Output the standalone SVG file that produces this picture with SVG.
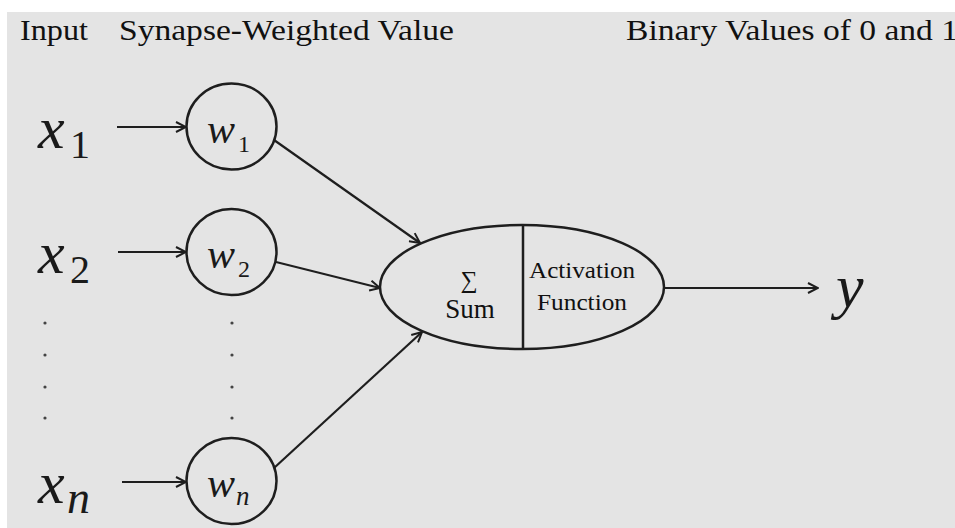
<svg xmlns="http://www.w3.org/2000/svg" width="955" height="528" viewBox="0 0 955 528" font-family="Liberation Serif">
<style>
text{font-family:'Liberation Serif','Times New Roman',serif}
.hdr{font-size:29px;fill:#111}
.it{font-style:italic;fill:#1a1a1a}
.up{font-style:normal;fill:#1a1a1a}
.lbl{fill:#111;text-anchor:middle}
.node{fill:none;stroke:#1e1e1e;stroke-width:2.5}
.conn{fill:none;stroke:#1e1e1e;stroke-width:2.2}
.dot{fill:#444}
</style>
<defs>
<marker id="arr" viewBox="0 0 12 12" refX="11" refY="6" markerWidth="12" markerHeight="12" markerUnits="userSpaceOnUse" orient="auto">
<path d="M1,1 L11,6 L1,11" fill="none" stroke="#1e1e1e" stroke-width="2"/>
</marker>
</defs>
<rect x="0" y="0" width="955" height="528" fill="#ffffff"/>
<rect x="7" y="12" width="948" height="516" fill="#e4e4e4"/>

<g id="headers">
<text class="hdr" x="20" y="40" textLength="68" lengthAdjust="spacingAndGlyphs">Input</text>
<text class="hdr" x="119" y="40" textLength="335" lengthAdjust="spacingAndGlyphs">Synapse-Weighted Value</text>
<text class="hdr" x="626" y="40" textLength="332" lengthAdjust="spacingAndGlyphs">Binary  Values of 0 and 1</text>
</g>

<g id="x1"><text class="it" x="38" y="148" font-size="60">x</text><text class="up" x="70" y="158" font-size="40">1</text></g>
<g id="x2"><text class="it" x="38" y="273" font-size="60">x</text><text class="up" x="70" y="283" font-size="40">2</text></g>
<g id="xn"><text class="it" x="38" y="503" font-size="60">x</text><text class="it" x="67" y="513" font-size="46">n</text></g>

<g id="w1"><ellipse class="node" cx="231.5" cy="126.5" rx="45" ry="43"/><text class="it" x="207" y="143" font-size="42">w</text><text class="up" x="238" y="152" font-size="24">1</text></g>
<g id="w2"><ellipse class="node" cx="231.5" cy="252" rx="45" ry="43"/><text class="it" x="207" y="268" font-size="42">w</text><text class="up" x="238" y="277" font-size="24">2</text></g>
<g id="wn"><ellipse class="node" cx="231.5" cy="481" rx="45" ry="43"/><text class="it" x="207" y="497" font-size="42">w</text><text class="it" x="236" y="505" font-size="27">n</text></g>

<g id="dots">
<circle class="dot" cx="45" cy="323" r="1.6"/><circle class="dot" cx="45" cy="355" r="1.6"/><circle class="dot" cx="45" cy="387" r="1.6"/><circle class="dot" cx="45" cy="418" r="1.6"/>
<circle class="dot" cx="232" cy="323" r="1.6"/><circle class="dot" cx="232" cy="355" r="1.6"/><circle class="dot" cx="232" cy="387" r="1.6"/><circle class="dot" cx="232" cy="418" r="1.6"/>
</g>

<g id="neuron">
<ellipse class="node" cx="522" cy="287" rx="142" ry="62"/>
<line class="node" x1="523" y1="225" x2="523" y2="349"/>
<text class="lbl" x="469" y="288" font-size="24">∑</text>
<text class="lbl" x="470" y="318" font-size="27">Sum</text>
<text class="lbl" x="582" y="278" font-size="24" textLength="106" lengthAdjust="spacingAndGlyphs">Activation</text>
<text class="lbl" x="582" y="310" font-size="24" textLength="90" lengthAdjust="spacingAndGlyphs">Function</text>
</g>

<g id="y"><text class="it" x="836" y="307" font-size="62">y</text></g>

<g id="connectors">
<line class="conn" x1="117" y1="127" x2="186" y2="127" marker-end="url(#arr)"/>
<line class="conn" x1="118" y1="252" x2="186" y2="252" marker-end="url(#arr)"/>
<line class="conn" x1="122" y1="482" x2="186" y2="482" marker-end="url(#arr)"/>
<line class="conn" x1="274" y1="140" x2="420" y2="243" marker-end="url(#arr)"/>
<line class="conn" x1="276" y1="262" x2="380" y2="288" marker-end="url(#arr)"/>
<line class="conn" x1="274" y1="468" x2="422" y2="332" marker-end="url(#arr)"/>
<line class="conn" x1="664" y1="288" x2="818" y2="288" marker-end="url(#arr)"/>
</g>
</svg>
